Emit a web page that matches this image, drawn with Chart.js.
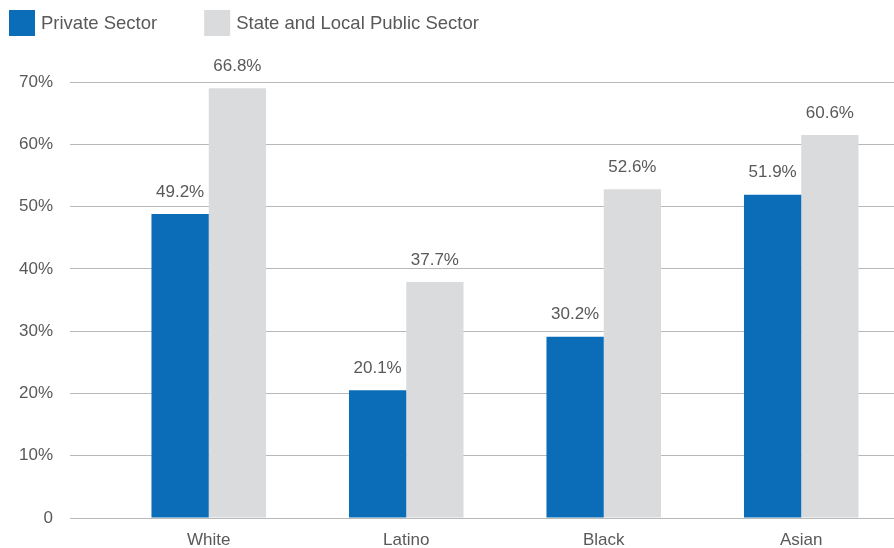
<!DOCTYPE html>
<html>
<head>
<meta charset="utf-8">
<script src="https://cdn.jsdelivr.net/npm/chart.js@4.4.1/dist/chart.umd.min.js"></script>
<style>
  html, body { margin: 0; padding: 0; background: #ffffff; overflow: hidden; }
  #wrap { position: relative; width: 904px; height: 548px; }
</style>
</head>
<body>
<div id="wrap"><canvas id="c"></canvas></div>
<script>
// ---- data ----
const categories = ['White', 'Latino', 'Black', 'Asian'];
const seriesNames = ['Private Sector', 'State and Local Public Sector'];
const privateValues = [48.8, 20.5, 29.1, 51.9];
const publicValues = [69.0, 37.9, 52.8, 61.5];
const privateLabels = ['49.2%', '20.1%', '30.2%', '51.9%'];
const publicLabels = ['66.8%', '37.7%', '52.6%', '60.6%'];
const yTickValues = [0, 10, 20, 30, 40, 50, 60, 70];
const yTickLabels = ['0', '10%', '20%', '30%', '40%', '50%', '60%', '70%'];

const FONT = "'Liberation Sans', Arial, Helvetica, sans-serif";
const TEXT = '#595959';
const BLUE = '#0b6cb7';
const GRAY = '#dadbdd';
const GRID = '#b8b8b8';

const valueLabelPlugin = {
  id: 'valueLabels',
  afterDatasetsDraw(chart) {
    const ctx = chart.ctx;
    ctx.save();
    ctx.font = '17px ' + FONT;
    ctx.fillStyle = TEXT;
    ctx.textAlign = 'center';
    ctx.textBaseline = 'middle';
    chart.data.datasets.forEach((ds, di) => {
      const meta = chart.getDatasetMeta(di);
      meta.data.forEach((bar, i) => {
        ctx.fillText(ds.valueLabels[i], bar.x, bar.y - 22);
      });
    });
    ctx.restore();
  }
};

const legendPlugin = {
  id: 'customLegend',
  afterDraw(chart) {
    const ctx = chart.ctx;
    ctx.save();
    ctx.font = '18.5px ' + FONT;
    ctx.textBaseline = 'middle';
    ctx.textAlign = 'left';
    let x = 9;
    const y = 10, box = 26, gapText = 6, gapItem = 47;
    chart.data.datasets.forEach((ds) => {
      ctx.fillStyle = ds.backgroundColor;
      ctx.fillRect(x, y, box, box);
      ctx.fillStyle = TEXT;
      ctx.fillText(ds.label, x + box + gapText, y + box / 2 + 1);
      x += box + gapText + ctx.measureText(ds.label).width + gapItem;
    });
    ctx.restore();
  }
};

new Chart(document.getElementById('c'), {
  type: 'bar',
  data: {
    labels: categories,
    datasets: [
      { label: seriesNames[0], data: privateValues, valueLabels: privateLabels,
        backgroundColor: BLUE, borderWidth: 0,
        categoryPercentage: 0.58, barPercentage: 1.0 },
      { label: seriesNames[1], data: publicValues, valueLabels: publicLabels,
        backgroundColor: GRAY, borderWidth: 0,
        categoryPercentage: 0.58, barPercentage: 1.0 }
    ]
  },
  options: {
    responsive: true,
    maintainAspectRatio: false,
    animation: false,
    layout: { padding: { top: 82, right: 4, bottom: 0, left: 0 } },
    plugins: {
      legend: { display: false },
      tooltip: { enabled: false }
    },
    scales: {
      x: {
        grid: { display: false, drawTicks: false },
        border: { display: false },
        ticks: { color: TEXT, font: { family: FONT, size: 17 }, padding: 12 },
        afterFit(scale) { scale.height = 30; }
      },
      y: {
        min: 0,
        max: 70,
        afterBuildTicks(scale) {
          scale.ticks = yTickValues.map(v => ({ value: v }));
        },
        grid: { color: GRID, lineWidth: 1, drawTicks: true, tickLength: 40 },
        border: { display: false },
        ticks: {
          color: TEXT,
          font: { family: FONT, size: 17 },
          padding: 17,
          callback(value) {
            const idx = yTickValues.indexOf(value);
            return idx >= 0 ? yTickLabels[idx] : '';
          }
        },
        afterFit(scale) { scale.width = 110; }
      }
    }
  },
  plugins: [valueLabelPlugin, legendPlugin]
});
</script>
</body>
</html>
